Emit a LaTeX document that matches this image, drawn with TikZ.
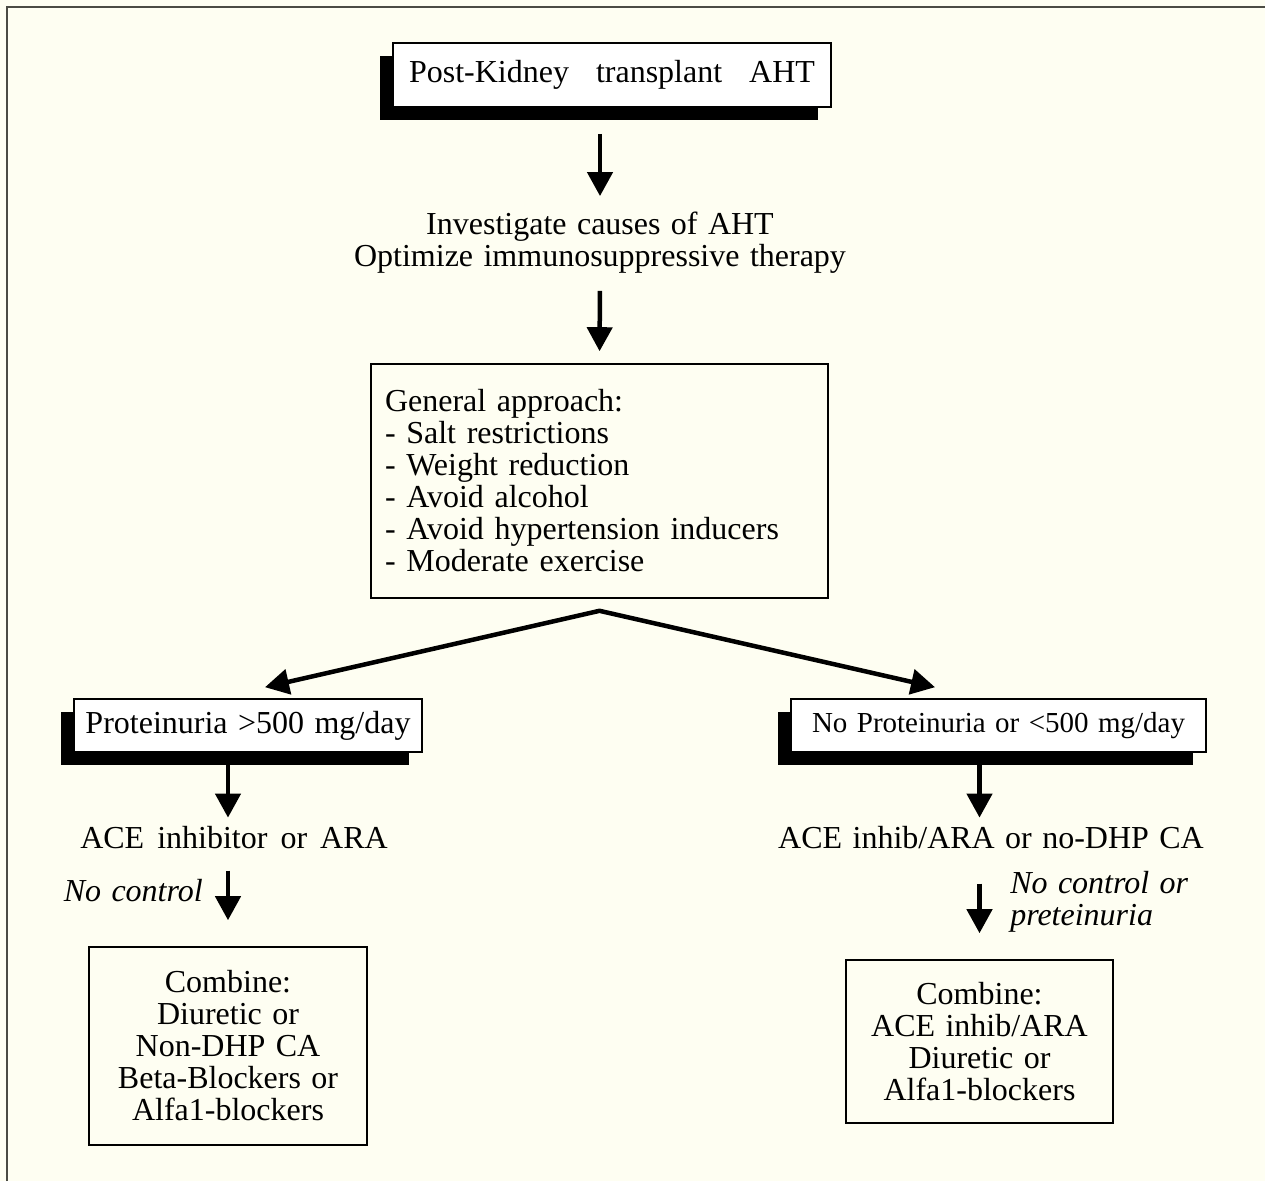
\documentclass[tikz,border=0pt]{standalone}
\usepackage{fontspec}
\setmainfont{Liberation Serif}[WordSpace=1.3]
\usetikzlibrary{arrows.meta,shadows}
\definecolor{paper}{HTML}{FEFEF2}
\definecolor{framegray}{HTML}{4B4B44}
\begin{document}
\begin{tikzpicture}[x=1pt,y=-1pt,font=\fontsize{32}{32}\selectfont,
  >={Triangle[length=24pt,width=25pt]},
  arr/.style={->,line width=4.5pt},
  box/.style={draw,line width=1.6pt,inner sep=2pt,align=center},
  sbox/.style={box,fill=white,drop shadow={shadow xshift=-13pt,shadow yshift=-13pt,opacity=1,fill=black}},
  txt/.style={inner sep=2pt,align=center},
  lbl/.style={font=\fontsize{32}{32}\selectfont\itshape,inner sep=2pt}]
  \fill[paper] (0,0) rectangle (1265,1181);
  \useasboundingbox (0,0) rectangle (1265,1181);
  \draw[framegray,line width=2.5pt] (7,1181) -- (7,7) -- (1265,7);
  \node[sbox,minimum width=438pt,minimum height=64pt] (title) at (612,75)
    {\spaceskip=27pt Post-Kidney transplant AHT};
  \node[txt] (inv) at (600,243) {Investigate causes of AHT\\Optimize immunosuppressive therapy};
  \node[box,text width=429pt,inner sep=14pt,align=left,minimum height=234pt] (gen) at (599.5,481)
    {General approach:\\- Salt restrictions\\- Weight reduction\\- Avoid alcohol\\- Avoid hypertension inducers\\- Moderate exercise};
  \node[sbox,minimum width=348pt,minimum height=53pt] (pro) at (248,725.5) {Proteinuria >500 mg/day};
  \node[sbox,minimum width=415pt,minimum height=53pt,font=\fontsize{29}{29}\selectfont] (nopro) at (998.5,725.5)
    {No Proteinuria or <500 mg/day};
  \node[txt,anchor=base] (ace1) at (234,848) {\spaceskip=13pt ACE inhibitor or ARA};
  \node[txt,anchor=base] (ace2) at (991,848) {ACE inhib/ARA or no-DHP CA};
  \node[box,minimum width=278pt,minimum height=198pt] (comb1) at (228,1046)
    {Combine:\\Diuretic or\\Non-DHP CA\\Beta-Blockers or\\Alfa1-blockers};
  \node[box,minimum width=267pt,minimum height=163pt] (comb2) at (979.5,1041.5)
    {Combine:\\ACE inhib/ARA\\Diuretic or\\Alfa1-blockers};
  % split under the general box
  \coordinate (apex) at ([yshift=-12pt]gen.south);
  \coordinate (lt) at ([xshift=17pt,yshift=11pt]pro.north);
  \coordinate (rt) at ([xshift=-63.5pt,yshift=11pt]nopro.north);
  \draw[arr,shorten <=26pt,shorten >=14pt] (title.south -| inv.north) -- (inv.north);
  \draw[arr,shorten <=15pt,shorten >=12pt] (inv.south) -- (gen.north);
  \draw[<->,line width=4.5pt] (lt) -- (apex) -- (rt);
  \draw[arr,shorten >=6pt] (pro.south -| comb1.north) -- (ace1.north -| comb1.north);
  \draw[arr,shorten <=20pt,shorten >=26pt] (ace1.south -| comb1.north) -- (comb1.north)
    node[lbl,pos=0.42,left=21pt] {No control};
  \draw[arr,shorten >=6pt] (nopro.south -| comb2.north) -- (ace2.north -| comb2.north);
  \draw[arr,shorten <=33pt,shorten >=26pt] (ace2.south -| comb2.north) -- (comb2.north)
    node[lbl,pos=0.47,right=26.5pt,align=left] {No control or\\preteinuria};
\end{tikzpicture}
\end{document}
